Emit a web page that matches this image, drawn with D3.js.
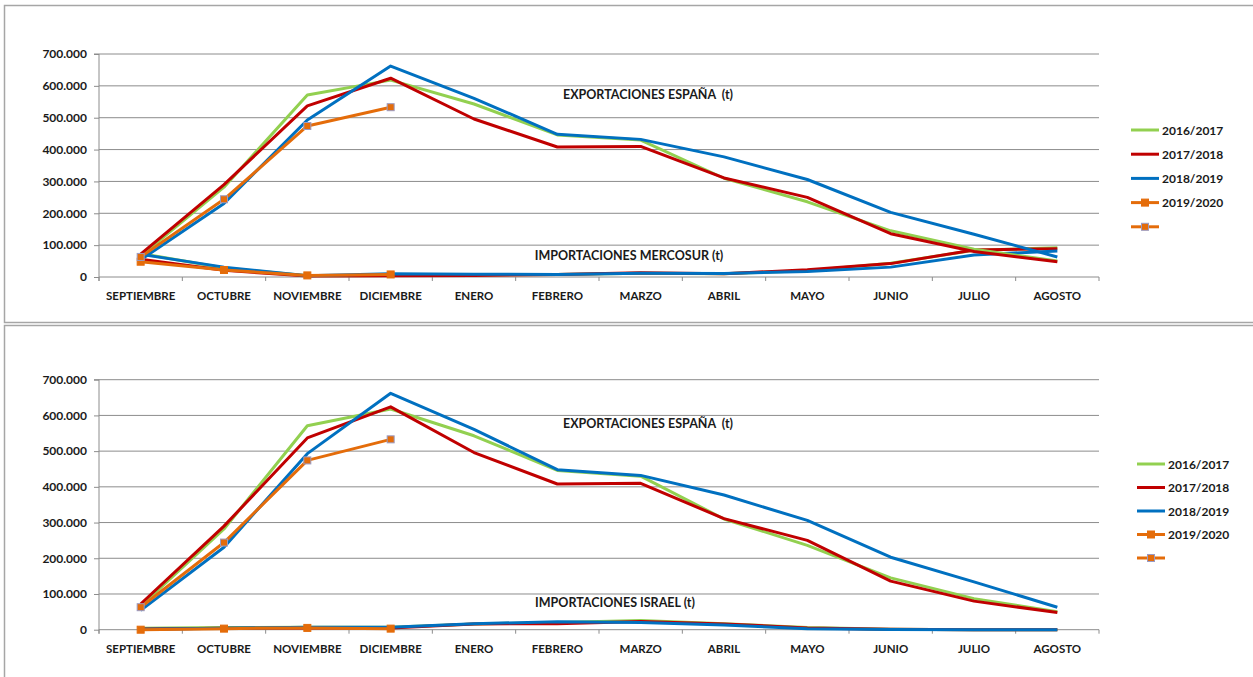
<!DOCTYPE html>
<html><head><meta charset="utf-8">
<script src="https://cdn.jsdelivr.net/npm/d3@7"></script>
<style>
html,body{margin:0;padding:0;background:#fff;}
svg text{font-family:Lato,"Open Sans",sans-serif;font-weight:bold;fill:#1a1a1a;}
</style></head>
<body>
<svg id="c" width="1253" height="677"></svg>
<script>
const months = ["SEPTIEMBRE","OCTUBRE","NOVIEMBRE","DICIEMBRE","ENERO","FEBRERO","MARZO","ABRIL","MAYO","JUNIO","JULIO","AGOSTO"];
const seasons = ["2016/2017","2017/2018","2018/2019","2019/2020",""];
const yTicks = [0,100000,200000,300000,400000,500000,600000,700000];

// Exportaciones España (t)
const exp2016 = [66000,282000,571000,618000,543000,446000,430000,310000,236000,145000,87000,50000];
const exp2017 = [72000,290000,537000,624000,496000,408000,410000,311000,250000,136000,80000,48000];
const exp2018 = [54000,231000,493000,662000,561000,448000,432000,377000,306000,203000,134000,63000];
const exp2019 = [63000,244000,474000,533000];

// Importaciones Mercosur (t)
const mer2016 = [74000,28000,4000,5000,6000,8000,12000,10000,20000,43000,84000,92000];
const mer2017 = [56000,21000,3000,4000,5000,8000,13000,10000,23000,42000,85000,89000];
const mer2018 = [71000,31000,4000,10000,9000,8000,12000,11000,17000,31000,69000,82000];
const mer2019 = [48000,22000,5000,8000];

// Importaciones Israel (t)
const isr2016 = [4000,6000,7000,7000,16000,20000,26000,17000,6000,1000,0,0];
const isr2017 = [2000,4000,5000,5000,16000,17000,23000,16000,5000,1000,0,0];
const isr2018 = [1000,4000,7000,7000,17000,22000,20000,13000,3000,500,0,0];
const isr2019 = [0,3000,5000,3000];

const C = {g:"#92D050", r:"#C00000", b:"#0070C0", o:"#E46C0A", mb:"#9A9BC4"};
const fmt = d3.formatLocale({decimal:",",thousands:".",grouping:[3],currency:["",""]}).format(",d");

const svg = d3.select("#c");

function panel(cfg){
  svg.append("rect").attr("x",4.5).attr("y",cfg.top).attr("width",1260).attr("height",cfg.h)
    .attr("fill","none").attr("stroke","#a6a6a6").attr("stroke-width",1.5);
  const x = d3.scaleBand().domain(months).range([99,1099]);
  const cx = m => x(m)+x.bandwidth()/2;
  const y = d3.scaleLinear().domain([0,700000]).range([cfg.y0,cfg.y7]);
  const g = svg.append("g");
  g.selectAll(".grid").data(yTicks).enter().append("line")
    .attr("x1",99).attr("x2",1099).attr("y1",d=>y(d)).attr("y2",d=>y(d))
    .attr("stroke","#8c8c8c").attr("stroke-width",1);
  const ya = g.append("g").attr("transform","translate(99,0)")
    .call(d3.axisLeft(y).tickValues(yTicks).tickSize(5).tickPadding(7).tickFormat(fmt));
  ya.select(".domain").attr("stroke","#8c8c8c").attr("d",`M-5,${y(700000)}H0V${y(0)+4}`);
  ya.selectAll(".tick line").attr("stroke","#8c8c8c");
  ya.selectAll(".tick text").style("font-size","12px").attr("fill","#1a1a1a");
  const xa = g.append("g").attr("transform",`translate(0,${y(0)})`)
    .call(d3.axisBottom(x).tickSize(0).tickPadding(cfg.xpad));
  xa.select(".domain").remove();
  xa.selectAll(".tick text").style("font-size","11.5px").attr("fill","#1a1a1a");
  g.selectAll(".xt").data(d3.range(months.length+1)).enter().append("line")
    .attr("x1",i=>99+i*x.step()).attr("x2",i=>99+i*x.step())
    .attr("y1",y(0)).attr("y2",y(0)+4).attr("stroke","#8c8c8c");
  svg.append("text").attr("x",648).attr("y",cfg.t1y).attr("text-anchor","middle")
    .style("font-size","12.5px").attr("xml:space","preserve").text("EXPORTACIONES ESPAÑA  (t)");
  svg.append("text").attr("x",cfg.t2x).attr("y",cfg.t2y).attr("text-anchor","middle")
    .style("font-size","12.5px").text(cfg.t2);

  const line = d3.line().x((d,i)=>cx(months[i])).y(d=>y(d));
  const series = [
    {v:cfg.imp[0],c:C.g},{v:cfg.imp[1],c:C.r},{v:cfg.imp[2],c:C.b},
    {v:exp2016,c:C.g},{v:exp2017,c:C.r},{v:exp2018,c:C.b},
    {v:cfg.imp[3],c:C.o,m:true,mb:C.o},
    {v:exp2019,c:C.o,m:true,mb:C.mb}
  ];
  series.forEach(s=>{
    g.append("path").attr("d",line(s.v)).attr("fill","none").attr("stroke",s.c)
      .attr("stroke-width",3).attr("stroke-linejoin","round");
    if(s.m){
      g.selectAll(null).data(s.v).enter().append("rect")
        .attr("x",(d,i)=>cx(months[i])-3.5).attr("y",d=>y(d)-3.5)
        .attr("width",7).attr("height",7).attr("fill",C.o).attr("stroke",s.mb).attr("stroke-width",1);
    }
  });
  const leg = svg.append("g");
  const lc = [C.g,C.r,C.b,C.o,C.o];
  seasons.forEach((s,i)=>{
    const ly = cfg.ly0 + i*cfg.lstep;
    leg.append("line").attr("x1",cfg.lx).attr("x2",cfg.lx+28).attr("y1",ly).attr("y2",ly)
      .attr("stroke",lc[i]).attr("stroke-width",3);
    if(i>=3){
      leg.append("rect").attr("x",cfg.lx+14-3.5).attr("y",ly-3.5).attr("width",7).attr("height",7)
        .attr("fill",C.o).attr("stroke",i===4?C.mb:C.o);
    }
    leg.append("text").attr("x",cfg.lx+31).attr("y",ly+4.5).style("font-size","12px").text(s);
  });
}

panel({top:5.5,h:317,y0:277,y7:54,xpad:15,t1y:99,t2:"IMPORTACIONES MERCOSUR (t)",t2x:629,t2y:260,
  imp:[mer2016,mer2017,mer2018,mer2019],lx:1131,ly0:130,lstep:24.2});
panel({top:325.5,h:400,y0:629.7,y7:379.7,xpad:15,t1y:428,t2:"IMPORTACIONES ISRAEL (t)",t2x:615,t2y:607,
  imp:[isr2016,isr2017,isr2018,isr2019],lx:1137,ly0:464,lstep:23.5});
</script>
</body></html>
